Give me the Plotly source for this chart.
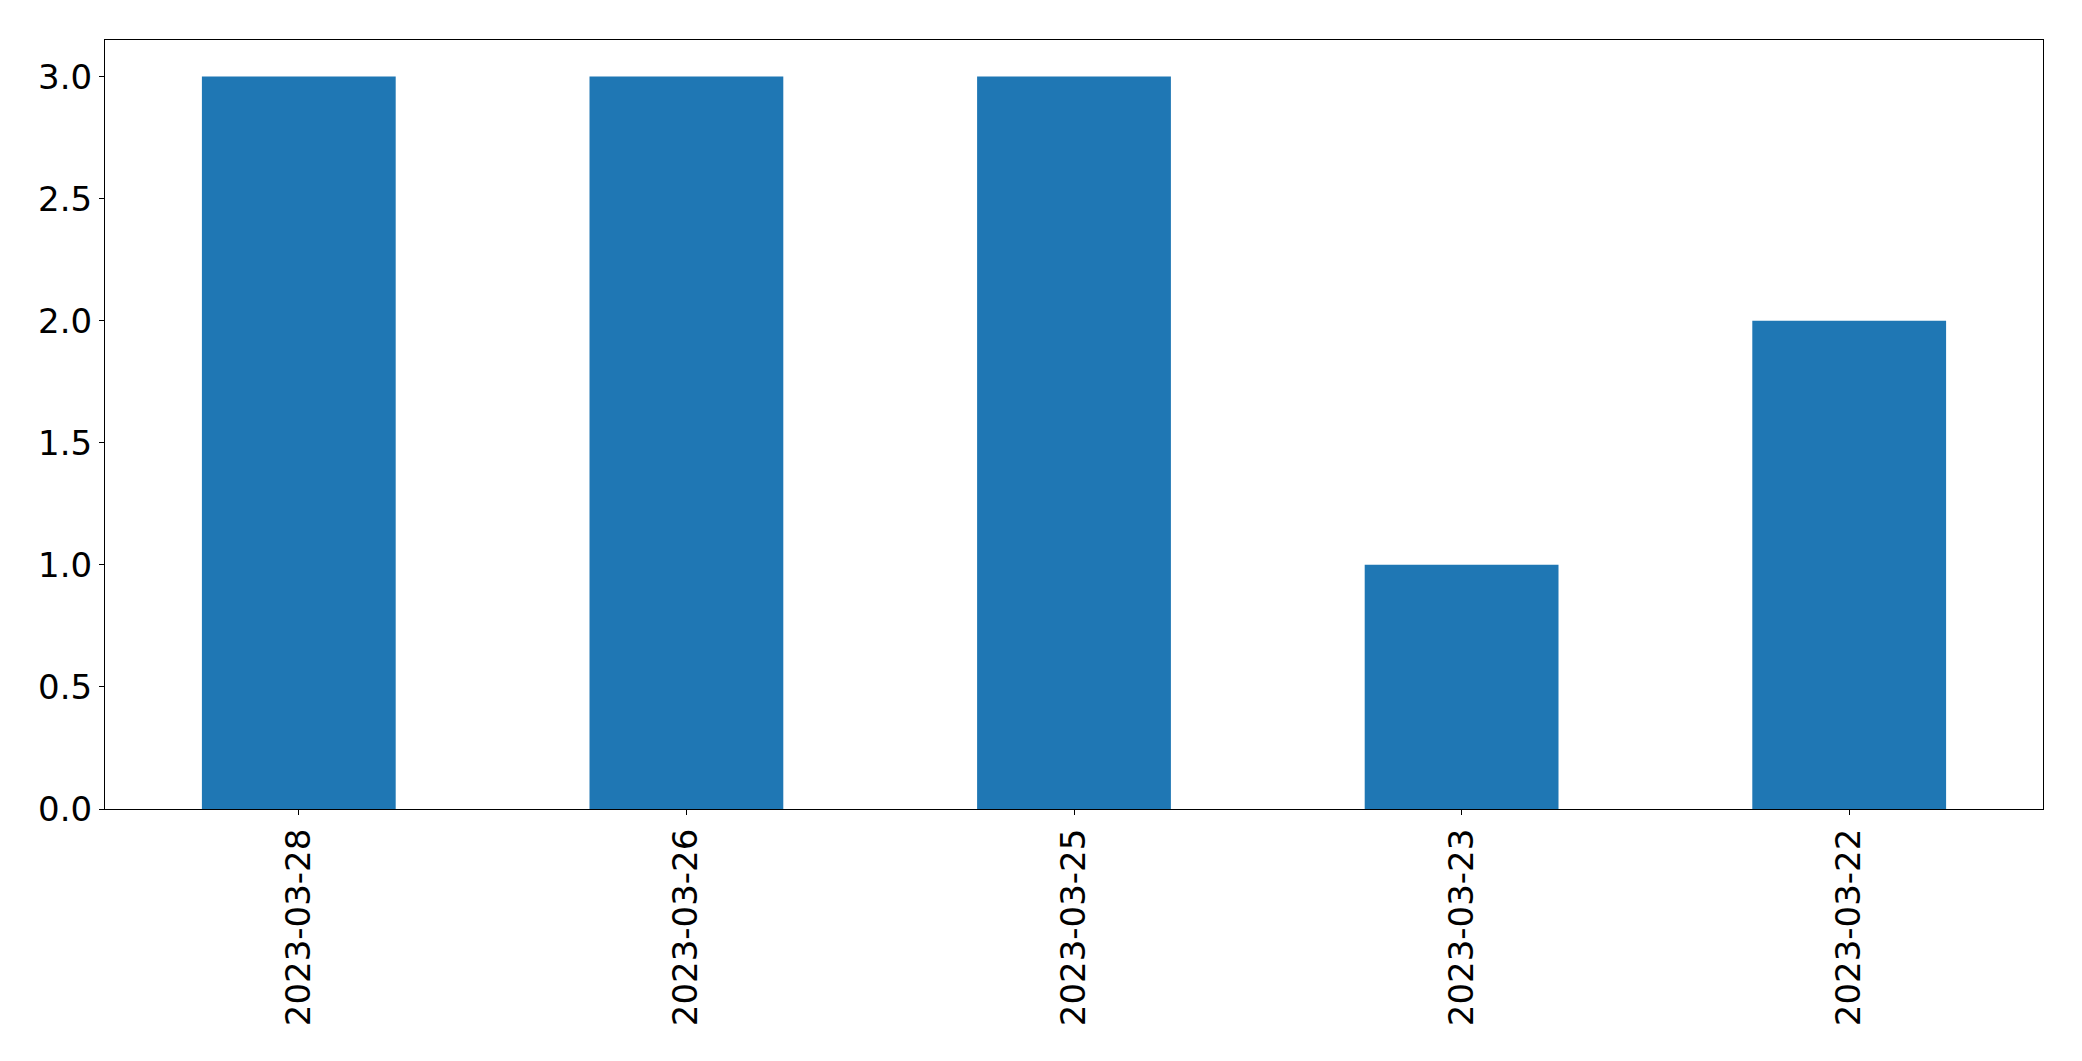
import plotly.graph_objects as go

dates = ["2023-03-28", "2023-03-26", "2023-03-25", "2023-03-23", "2023-03-22"]
counts = [3, 3, 3, 1, 2]
y_ticks = [0.0, 0.5, 1.0, 1.5, 2.0, 2.5, 3.0]

fig = go.Figure(
    go.Bar(x=dates, y=counts, width=0.5, marker=dict(color="#1f77b4", line=dict(width=0)))
)

axis_common = dict(
    showline=True, linecolor="black", linewidth=1.1, mirror=True,
    ticks="outside", ticklen=5, tickwidth=1.1, tickcolor="black",
    showgrid=False, zeroline=False,
    tickfont=dict(family="DejaVu Sans", size=34, color="black"),
)

fig.update_layout(
    width=2082, height=1061,
    margin=dict(l=105, r=39, t=39.5, b=252, pad=0),
    paper_bgcolor="white", plot_bgcolor="white",
    showlegend=False,
    font=dict(family="DejaVu Sans", color="black"),
    xaxis=dict(type="category", range=[-0.5, 4.5], tickangle=-90, **axis_common),
    yaxis=dict(range=[0, 3.15], tickvals=y_ticks, tickformat=".1f", **axis_common),
)

fig.write_html(
    "out.html",
    config={"displayModeBar": False},
    post_script="document.body.style.margin='0';document.body.style.overflow='hidden';",
)
